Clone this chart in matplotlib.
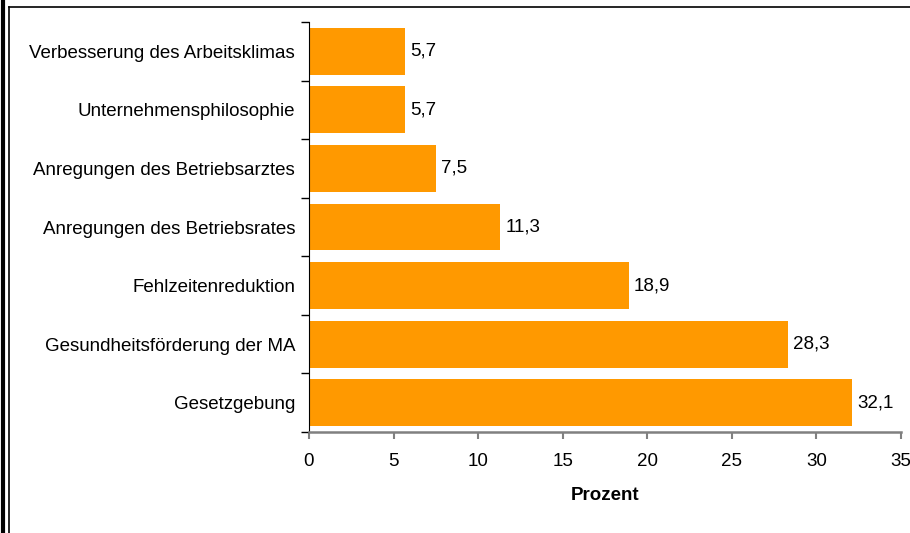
import matplotlib.pyplot as plt
from matplotlib.lines import Line2D

categories = ["Gesetzgebung", "Gesundheitsförderung der MA", "Fehlzeitenreduktion",
              "Anregungen des Betriebsrates", "Anregungen des Betriebsarztes",
              "Unternehmensphilosophie", "Verbesserung des Arbeitsklimas"]
values = [32.1, 28.3, 18.9, 11.3, 7.5, 5.7, 5.7]
xticks = [0, 5, 10, 15, 20, 25, 30, 35]

plt.rcParams['font.family'] = ['Liberation Sans', 'DejaVu Sans']

fig = plt.figure(figsize=(9.1, 5.33), dpi=100)
ax = fig.add_axes([309/910, 101/533, 592/910, 410/533])

y = list(range(len(categories)))
ax.barh(y, values, height=0.8, color='#FF9900')

for yi, v in zip(y, values):
    ax.text(v + 0.3, yi, f"{v:.1f}".replace('.', ','), va='center', ha='left', fontsize=13.5)

ax.set_xlim(0, 35)
ax.set_ylim(-0.5, len(categories) - 0.5)
ax.set_xticks(xticks)
ax.set_xticklabels([str(t) for t in xticks], fontsize=13.5)
ax.set_yticks(y)
ax.set_yticklabels(categories, fontsize=13.5)
ax.tick_params(axis='y', length=0, pad=10)
ax.set_yticks([i - 0.5 for i in range(len(categories) + 1)], minor=True)
ax.tick_params(axis='y', which='minor', length=6, width=1, color='black')
ax.tick_params(axis='x', length=5, width=1.5, color='#808080', pad=10)

ax.spines['top'].set_visible(False)
ax.spines['right'].set_visible(False)
ax.spines['left'].set_color('black')
ax.spines['bottom'].set_color('#808080')
ax.spines['bottom'].set_linewidth(1.8)

ax.set_xlabel("Prozent", fontsize=13.5, fontweight='bold', labelpad=12)

# outer frame lines
fig.add_artist(Line2D([3/910, 3/910], [0, 1], transform=fig.transFigure, color='black', lw=3))
fig.add_artist(Line2D([8.5/910, 8.5/910], [0, 526/533], transform=fig.transFigure, color='black', lw=1.2))
fig.add_artist(Line2D([8.5/910, 1], [526/533, 526/533], transform=fig.transFigure, color='black', lw=1.2))

fig.savefig("out.png", dpi=100)
